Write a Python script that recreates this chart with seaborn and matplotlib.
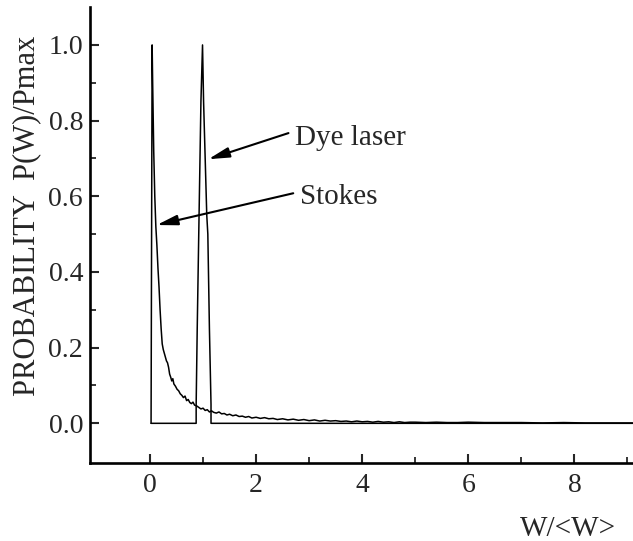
import numpy as np
import pandas as pd
import matplotlib
matplotlib.use("Agg")
import matplotlib.pyplot as plt
import seaborn as sns
from matplotlib.ticker import FixedLocator, FormatStrFormatter

# ---- data ----
stokes_x = [0.02, 0.04, 0.05, 0.07, 0.09, 0.11, 0.13, 0.15, 0.17, 0.19, 0.21, 0.23,
            0.25, 0.27, 0.29, 0.31, 0.33, 0.35, 0.37, 0.39, 0.41, 0.43, 0.45, 0.48,
            0.51, 0.54, 0.57, 0.60, 0.63, 0.66, 0.69, 0.72, 0.75, 0.78, 0.81, 0.84,
            0.88, 0.92, 0.96, 1.00, 1.04, 1.08, 1.12, 1.16, 1.20, 1.25, 1.30, 1.35,
            1.40, 1.45, 1.50, 1.56, 1.62, 1.68, 1.74, 1.80, 1.86, 1.92, 2.00, 2.08,
            2.16, 2.24, 2.32, 2.40, 2.50, 2.60, 2.70, 2.80, 2.90, 3.00, 3.10, 3.20,
            3.30, 3.40, 3.50, 3.60, 3.70, 3.80, 3.90, 4.00, 4.10, 4.20, 4.30, 4.40,
            4.50, 4.60, 4.70, 4.80, 4.90, 5.00, 5.20, 5.40, 5.60, 5.80, 6.00, 6.30,
            6.60, 7.00, 7.40, 7.80, 8.20, 8.60, 9.10]
stokes_p = [0.0, 1.0, 0.90, 0.72, 0.60, 0.52, 0.47, 0.41, 0.36, 0.30, 0.25, 0.21,
            0.195, 0.185, 0.175, 0.165, 0.160, 0.148, 0.130, 0.122, 0.112, 0.118, 0.104, 0.098,
            0.090, 0.086, 0.078, 0.074, 0.068, 0.072, 0.060, 0.063, 0.055, 0.052, 0.056, 0.048,
            0.046, 0.042, 0.038, 0.040, 0.034, 0.036, 0.030, 0.033, 0.029, 0.027, 0.030, 0.025,
            0.026, 0.022, 0.024, 0.020, 0.022, 0.018, 0.019, 0.016, 0.018, 0.014, 0.016, 0.013,
            0.015, 0.012, 0.013, 0.010, 0.012, 0.009, 0.011, 0.008, 0.010, 0.007, 0.009, 0.006,
            0.008, 0.006, 0.007, 0.005, 0.006, 0.004, 0.006, 0.004, 0.005, 0.003, 0.005, 0.003,
            0.004, 0.002, 0.004, 0.002, 0.003, 0.003, 0.002, 0.003, 0.002, 0.002, 0.003, 0.002,
            0.002, 0.002, 0.001, 0.002, 0.001, 0.001, 0.001]

dye_x = [0.02, 0.87, 0.87, 0.89, 0.92, 0.96, 0.99, 1.01, 1.04, 1.07, 1.09, 1.12, 1.15, 1.15, 9.10]
dye_p = [0.0, 0.0, 0.05, 0.25, 0.51, 0.85, 1.0, 0.85, 0.70, 0.55, 0.50, 0.25, 0.05, 0.0, 0.0]

x_major = [0, 2, 4, 6, 8]
x_minor = [1, 3, 5, 7, 9]
y_major = [0.0, 0.2, 0.4, 0.6, 0.8, 1.0]
y_minor = [0.1, 0.3, 0.5, 0.7, 0.9]

ylabel_text = "PROBABILITY  P(W)/Pmax"
xlabel_text = "W/<W>"

df = pd.concat([
    pd.DataFrame({"x": stokes_x, "p": stokes_p, "series": "Stokes"}),
    pd.DataFrame({"x": dye_x, "p": dye_p, "series": "Dye laser"}),
], ignore_index=True)

sns.set_style("ticks")
plt.rcParams["font.family"] = ["Liberation Serif", "DejaVu Serif"]

fig = plt.figure(figsize=(6.33, 5.41), dpi=100)
ax = fig.add_axes([0.1422, 0.1436, 0.8578, 0.8440])

sns.lineplot(data=df, x="x", y="p", units="series", estimator=None, sort=False,
             color="black", linewidth=1.1, ax=ax, legend=False)

ax.set_xlim(-1.131, 9.105)
ax.set_ylim(-0.1057, 1.101)

ax.xaxis.set_major_locator(FixedLocator(x_major))
ax.xaxis.set_minor_locator(FixedLocator(x_minor))
ax.yaxis.set_major_locator(FixedLocator(y_major))
ax.yaxis.set_minor_locator(FixedLocator(y_minor))
ax.yaxis.set_major_formatter(FormatStrFormatter("%.1f"))
ax.xaxis.set_major_formatter(FormatStrFormatter("%d"))

ax.tick_params(which="major", direction="in", length=6.5, width=1.5, labelsize=20, pad=7)
ax.tick_params(which="minor", direction="in", length=4, width=1.3)
ax.tick_params(axis="y", which="major", pad=5)

for s in ["top", "right"]:
    ax.spines[s].set_visible(False)
for s in ["left", "bottom"]:
    ax.spines[s].set_linewidth(1.9)
    ax.spines[s].set_color("black")

ax.set_xlabel(xlabel_text, fontsize=21)
ax.xaxis.set_label_coords(0.880, -0.115)
ax.set_ylabel(ylabel_text, fontsize=22)
ax.yaxis.set_label_coords(-0.09, 0.542)

arrow_kw = dict(arrowstyle="-|>,head_length=0.9,head_width=0.22", color="black",
                lw=1.5, mutation_scale=14, shrinkA=0, shrinkB=0)
ax.annotate("", xy=(1.10, 0.698), xytext=(2.61, 0.767), arrowprops=arrow_kw)
ax.text(2.73, 0.754, "Dye laser", fontsize=21, va="center", ha="left")
ax.annotate("", xy=(0.126, 0.524), xytext=(2.70, 0.608), arrowprops=arrow_kw)
ax.text(2.83, 0.599, "Stokes", fontsize=21, va="center", ha="left")

fig.savefig("out.png", dpi=100)
